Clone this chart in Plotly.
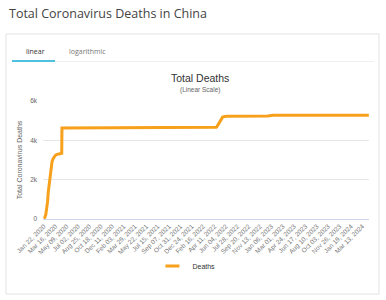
import plotly.graph_objects as go

# ---- data (cumulative deaths, China; values at dates where they change) ----
dates = [
    "2020-01-22", "2020-01-25", "2020-01-28", "2020-01-31", "2020-02-03", "2020-02-06",
    "2020-02-09", "2020-02-12", "2020-02-15", "2020-02-18", "2020-02-21", "2020-02-24",
    "2020-02-27", "2020-03-01", "2020-03-05", "2020-03-10", "2020-03-16", "2020-03-22",
    "2020-03-31", "2020-04-10", "2020-04-16", "2020-04-17", "2020-05-16", "2021-01-10",
    "2022-04-17", "2022-04-20", "2022-04-23", "2022-04-26", "2022-04-30", "2022-05-05",
    "2022-05-10", "2022-05-15", "2022-05-20", "2022-05-31", "2022-06-10", "2022-12-20",
    "2022-12-31", "2023-01-09", "2023-01-15", "2024-04-13",
]
deaths = [
    17, 42, 131, 213, 425, 632,
    904, 1368, 1666, 2006, 2348, 2666,
    2791, 2915, 3044, 3162, 3231, 3276,
    3309, 3336, 3342, 4632, 4633, 4636,
    4638, 4663, 4700, 4750, 4850, 4950,
    5050, 5120, 5180, 5216, 5226, 5235,
    5250, 5265, 5272, 5272,
]
tick_dates = [
    "2020-01-22", "2020-03-16", "2020-05-09", "2020-07-02", "2020-08-25", "2020-10-18",
    "2020-12-11", "2021-02-03", "2021-03-29", "2021-05-22", "2021-07-15", "2021-09-07",
    "2021-10-31", "2021-12-24", "2022-02-16", "2022-04-11", "2022-06-04", "2022-07-28",
    "2022-09-20", "2022-11-13", "2023-01-06", "2023-03-01", "2023-04-24", "2023-06-17",
    "2023-08-10", "2023-10-03", "2023-11-26", "2024-01-19", "2024-03-13",
]
tick_labels = [
    "Jan 22, 2020", "Mar 16, 2020", "May 09, 2020", "Jul 02, 2020", "Aug 25, 2020", "Oct 18, 2020",
    "Dec 11, 2020", "Feb 03, 2021", "Mar 29, 2021", "May 22, 2021", "Jul 15, 2021", "Sep 07, 2021",
    "Oct 31, 2021", "Dec 24, 2021", "Feb 16, 2022", "Apr 11, 2022", "Jun 04, 2022", "Jul 28, 2022",
    "Sep 20, 2022", "Nov 13, 2022", "Jan 06, 2023", "Mar 01, 2023", "Apr 24, 2023", "Jun 17, 2023",
    "Aug 10, 2023", "Oct 03, 2023", "Nov 26, 2023", "Jan 19, 2024", "Mar 13, 2024",
]
y_ticks = [0, 2000, 4000, 6000]
y_tick_labels = ["0", "2k", "4k", "6k"]

# ---- geometry (pixels) ----
W, H = 386, 300
L, R, T, B = 43, 17, 101, 81
PW, PH = W - L - R, H - T - B


def px(x):
    return (x - L) / PW


def py(y):
    return (H - B - y) / PH


ORANGE = "#f7a01c"
FONT = "Arial, Liberation Sans, sans-serif"

fig = go.Figure()
fig.add_trace(go.Scatter(
    x=dates, y=deaths, mode="lines", name="Deaths", showlegend=False,
    line=dict(color=ORANGE, width=3),
))
# legend entry with a short line symbol (like the reference)
fig.add_trace(go.Scatter(
    x=[None], y=[None], mode="markers", name="Deaths", showlegend=True,
    marker=dict(symbol="line-ew-open", size=10, color=ORANGE, line=dict(color=ORANGE, width=3)),
))

fig.update_layout(
    width=W, height=H,
    margin=dict(l=L, r=R, t=T, b=B),
    paper_bgcolor="white", plot_bgcolor="white",
    showlegend=True,
    legend=dict(
        orientation="h", x=0.44, xanchor="center", y=py(266), yanchor="middle",
        font=dict(family=FONT, size=7, color="#333"),
        bgcolor="rgba(0,0,0,0)",
    ),
    xaxis=dict(
        type="date", range=["2020-01-18", "2024-04-14"],
        tickmode="array", tickvals=tick_dates, ticktext=tick_labels,
        tickangle=-45, tickfont=dict(family=FONT, size=6.5, color="#777"),
        showgrid=False, showline=True, linecolor="#ccd6eb", linewidth=1,
        ticks="", zeroline=False,
    ),
    yaxis=dict(
        range=[0, 6000], tickmode="array", tickvals=y_ticks, ticktext=y_tick_labels,
        tickfont=dict(family=FONT, size=6.5, color="#666"),
        showgrid=True, gridcolor="#e6e6e6", gridwidth=1, zeroline=False,
        title=dict(text="Total Coronavirus Deaths", font=dict(family=FONT, size=7, color="#666"), standoff=6),
        ticks="", ticklabelstandoff=5,
    ),
)

annotations = [
    dict(text="Total Coronavirus Deaths in China", x=px(7), y=py(13), xanchor="left", yanchor="middle",
         font=dict(family="Open Sans, sans-serif", size=12.5, color="#444")),
    dict(text="linear", x=px(35), y=py(51), xanchor="center", yanchor="middle",
         font=dict(family="Open Sans, sans-serif", size=7, color="#333")),
    dict(text="logarithmic", x=px(87), y=py(51), xanchor="center", yanchor="middle",
         font=dict(family="Open Sans, sans-serif", size=7, color="#777")),
    dict(text="Total Deaths", x=px(200), y=py(78), xanchor="center", yanchor="middle",
         font=dict(family=FONT, size=10.5, color="#333")),
    dict(text="(Linear Scale)", x=px(200), y=py(90), xanchor="center", yanchor="middle",
         font=dict(family=FONT, size=6.5, color="#666")),
]
for a in annotations:
    a.update(xref="paper", yref="paper", showarrow=False)
fig.update_layout(annotations=annotations)

shapes = [
    dict(type="rect", x0=px(6), x1=px(379), y0=py(34), y1=py(294),
         line=dict(color="#e3e3e3", width=1), fillcolor="rgba(0,0,0,0)", layer="below"),
    dict(type="line", x0=px(12), x1=px(374), y0=py(61.5), y1=py(61.5),
         line=dict(color="#f0f0f0", width=1)),
    dict(type="line", x0=px(12), x1=px(55), y0=py(61), y1=py(61),
         line=dict(color="#4fc1e0", width=2)),
]
for s in shapes:
    s.update(xref="paper", yref="paper")
fig.update_layout(shapes=shapes)

fig.write_html("out.html")
